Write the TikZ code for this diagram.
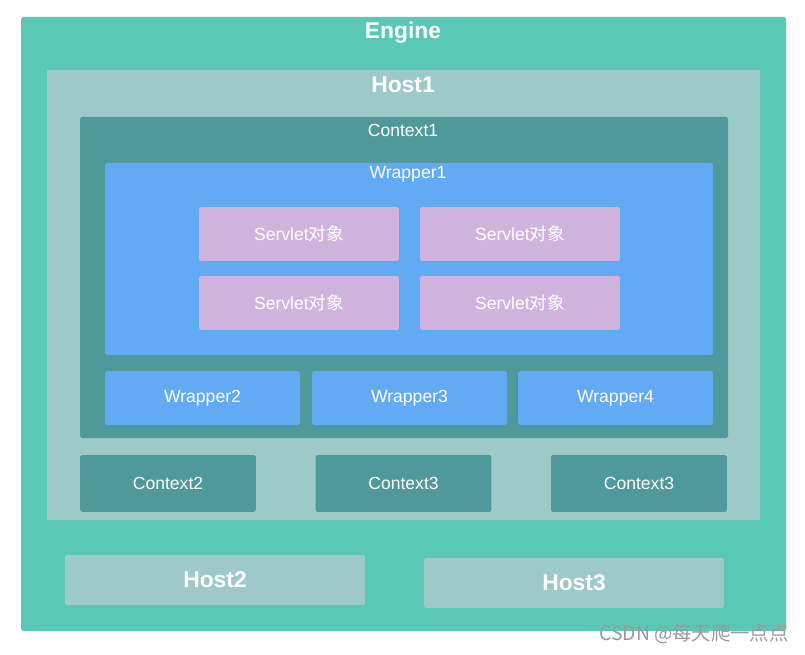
\documentclass[tikz,border=0pt]{standalone}
\usepackage{fontspec}
\setmainfont{Liberation Sans}
\newfontfamily\cjk{Noto Sans CJK SC}
\definecolor{enginec}{HTML}{5AC8B6}
\definecolor{hostc}{HTML}{9DC9C8}
\definecolor{ctxc}{HTML}{50999A}
\definecolor{wrapc}{HTML}{63AAF5}
\definecolor{servc}{HTML}{D1B4DE}
\tikzset{
  box/.style={rounded corners=1pt,inner sep=0pt,text=white,font=\fontsize{10}{12}\selectfont},
  bigbox/.style={box,font=\fontsize{13}{15}\selectfont\bfseries},
  servlet/.style={box,fill=servc,minimum width=4cm,minimum height=1.08cm},
  wrapbox/.style={box,fill=wrapc,minimum width=3.9cm,minimum height=1.08cm},
  ctxbox/.style={box,fill=ctxc,minimum width=3.52cm,minimum height=1.14cm},
  hostbox/.style={bigbox,fill=hostc,minimum width=6cm,minimum height=1cm},
  title/.style={inner sep=0pt,text=white}
}
\begin{document}
\begin{tikzpicture}[x=0.02cm,y=-0.02cm]
  \useasboundingbox (0,0) rectangle (805,655);
  % containers
  \fill[enginec,rounded corners=1pt] (21,17) rectangle (786,631);
  \fill[hostc] (47,70) rectangle (760,520);
  \fill[ctxc,rounded corners=1pt] (80,117) rectangle (728,438);
  \fill[wrapc,rounded corners=1pt] (105,163) rectangle (713,355);
  \node[title,font=\fontsize{13}{15}\selectfont\bfseries] (engine) at (403,33) {Engine};
  \node[title,font=\fontsize{13}{15}\selectfont\bfseries] (host1) at (403,85) {Host1};
  \node[title,font=\fontsize{10}{12}\selectfont] (context1) at (403,130) {Context1};
  \node[title,font=\fontsize{10}{12}\selectfont] (wrapper1) at (408,174) {Wrapper1};
  % servlets
  \node[servlet] (s1) at (299,234) {Servlet{\cjk 对象}};
  \node[servlet] (s2) at (520,234) {Servlet{\cjk 对象}};
  \node[servlet] (s3) at (299,303) {Servlet{\cjk 对象}};
  \node[servlet] (s4) at (520,303) {Servlet{\cjk 对象}};
  % wrappers
  \node[wrapbox] (wrapper2) at (202.5,398) {Wrapper2};
  \node[wrapbox] (wrapper3) at (409.5,398) {Wrapper3};
  \node[wrapbox] (wrapper4) at (615.5,398) {Wrapper4};
  % contexts
  \node[ctxbox] (context2) at (168,483.5) {Context2};
  \node[ctxbox] (context3) at (403.5,483.5) {Context3};
  \node[ctxbox] (context4) at (639,483.5) {Context3};
  % hosts
  \node[hostbox] (host2) at (215,580) {Host2};
  \node[hostbox] (host3) at (574,583) {Host3};
  \node[inner sep=0pt,text=black!40,font=\cjk\fontsize{11}{13}\selectfont] (mark) at (694,634) {CSDN @每天爬一点点};
\end{tikzpicture}
\end{document}
